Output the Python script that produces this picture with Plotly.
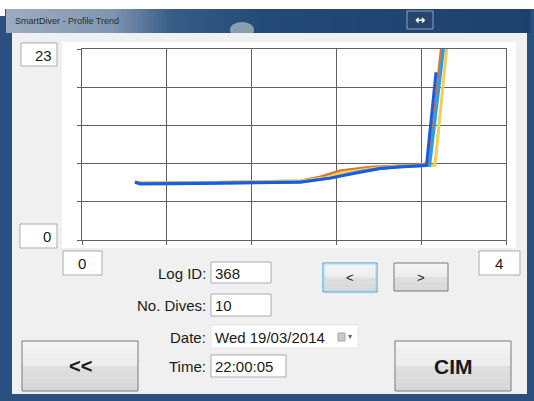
import plotly.graph_objects as go

W, H = 534, 401

# ---------------- data ----------------
X_MIN, X_MAX = 0, 4
Y_MIN, Y_MAX = 0, 23

orange_x = [0.50, 0.55, 1.10, 2.06, 2.25, 2.43, 2.72, 3.00, 3.21, 3.26, 3.31, 3.39]
orange_y = [7.0, 6.85, 6.9, 7.1, 7.6, 8.3, 8.75, 8.95, 9.05, 9.3, 13.5, 23.0]

yellow_x = [0.50, 0.55, 1.10, 2.06, 2.30, 2.45, 2.75, 3.00, 3.21, 3.33, 3.44]
yellow_y = [7.0, 6.9, 6.9, 7.1, 7.5, 8.1, 8.6, 8.9, 9.0, 9.0, 23.0]

lightblue_x = [0.50, 0.55, 1.10, 2.06, 2.34, 2.60, 2.81, 3.00, 3.21, 3.28, 3.41]
lightblue_y = [7.0, 6.8, 6.85, 7.0, 7.45, 8.2, 8.6, 8.85, 8.95, 9.0, 23.0]

blue_x = [0.50, 0.55, 1.10, 2.06, 2.34, 2.62, 2.81, 3.00, 3.21, 3.25, 3.34]
blue_y = [6.95, 6.75, 6.8, 6.95, 7.45, 8.15, 8.6, 8.8, 8.9, 9.0, 20.2]

series = [
    (orange_x, orange_y, "#d9733f"),
    (yellow_x, yellow_y, "#f1cf55"),
    (lightblue_x, lightblue_y, "#2c9fe0"),
    (blue_x, blue_y, "#1c5be0"),
]

title_text = "SmartDiver - Profile Trend"
y_max_label = "23"
y_min_label = "0"
x_min_label = "0"
x_max_label = "4"
field_labels = ["Log ID:", "No. Dives:", "Date:", "Time:"]
log_id = "368"
n_dives = "10"
date_text = "Wed 19/03/2014"
time_text = "22:00:05"
btn_prev = "<"
btn_next = ">"
btn_back = "<<"
btn_cim = "CIM"

# ---------------- helpers ----------------
def px(x):
    return x / W

def py(y):
    return 1 - y / H

shapes = []
annotations = []

def rect(x0, y0, x1, y1, fill, line=None, lw=1):
    shapes.append(dict(
        type="rect", xref="paper", yref="paper",
        x0=px(x0), x1=px(x1), y0=py(y1), y1=py(y0),
        fillcolor=fill,
        line=dict(color=line if line else "rgba(0,0,0,0)", width=lw if line else 0),
        layer="below"))

def lerp(c1, c2, t):
    t = max(0.0, min(1.0, t))
    return "#%02x%02x%02x" % tuple(int(round(a + (b - a) * t)) for a, b in zip(c1, c2))

def text(x, y, s, size=15, color="#1a1a1a", xanchor="left", bold=False, family="Liberation Sans"):
    annotations.append(dict(
        xref="paper", yref="paper", x=px(x), y=py(y), text=("<b>%s</b>" % s) if bold else s,
        showarrow=False, xanchor=xanchor, yanchor="middle",
        font=dict(size=size, color=color, family=family)))

def button(x0, y0, x1, y1, border="#7a7a7a", n=12):
    top1, top2 = (244, 244, 244), (236, 236, 236)
    bot1, bot2 = (224, 224, 224), (214, 214, 214)
    h = y1 - y0
    for i in range(n):
        a = y0 + h * i / n
        b = y0 + h * (i + 1) / n
        t = i / (n - 1)
        c = lerp(top1, top2, t * 2) if t < 0.5 else lerp(bot1, bot2, (t - 0.5) * 2)
        rect(x0, a, x1, b, c)
    rect(x0, y0, x1, y1, "rgba(0,0,0,0)", border, 1)

# ---------------- window chrome ----------------
# frame
rect(0, 9, W, H, "#2a5080")
# title bar gradient
stops = [(6, (156, 172, 192)), (110, (128, 150, 176)), (170, (56, 92, 134)), (260, (36, 74, 120)), (534, (30, 64, 108))]
for xx in range(6, 528, 4):
    c = lerp(stops[-1][1], stops[-1][1], 0)
    for (xa, ca), (xb, cb) in zip(stops[:-1], stops[1:]):
        if xa <= xx <= xb:
            c = lerp(ca, cb, (xx - xa) / (xb - xa))
            break
    rect(xx, 9, xx + 4.5, 33, c)
# subtle highlight in title bar
shapes.append(dict(type="circle", xref="paper", yref="paper", x0=px(230), x1=px(254), y0=py(38), y1=py(22),
                   fillcolor="rgba(215,225,215,0.55)", line=dict(width=0), layer="below"))
# top white area (above window)
rect(0, 0, W, 9, "#ffffff")
rect(0, 0, 5, 16, "#ffffff")
# client area
rect(12, 33, 527, 394, "#f0f0f0")
# white chart panel
rect(62, 42, 516, 248, "#ffffff")

# title text and button
text(13, 21, title_text, size=9, color="#2a2a2a", family="Liberation Sans")
rect(407, 11, 433, 29, "rgba(40,70,110,0.9)", "#8aa2c2", 1)
text(420, 20, "↔", size=12, color="#ffffff", xanchor="center", bold=True, family="DejaVu Sans")

# ---------------- range boxes ----------------
box_border = "#a8abb2"
rect(21, 43, 57, 66, "#ffffff", box_border)
text(54, 55, y_max_label, size=15, xanchor="right")
rect(20, 224, 57, 248, "#ffffff", box_border)
text(53, 236, y_min_label, size=15, xanchor="right")
rect(63, 251, 102, 275, "#ffffff", box_border)
text(82, 263, x_min_label, size=15, xanchor="center")
rect(479, 251, 520, 275, "#ffffff", box_border)
text(499, 263, x_max_label, size=15, xanchor="center")

# ---------------- fields ----------------
label_y = [273, 305, 337, 366]
for lab, yy in zip(field_labels, label_y):
    text(208, yy, lab, size=15, xanchor="right")

rect(211, 262, 271, 283, "#ffffff", box_border)
text(213, 273, log_id, size=15)
rect(211, 294, 271, 316, "#ffffff", box_border)
text(213, 305, n_dives, size=15)
rect(211, 325, 358, 348, "#ffffff", "#e6e6e6")
text(213, 337, date_text, size=15)
rect(338, 333, 345, 341, "#c9c9c9", "#a9a9a9")
text(350, 336, "▾", size=8, color="#666666", xanchor="center", family="DejaVu Sans")
rect(211, 355, 286, 377, "#ffffff", box_border)
text(213, 366, time_text, size=15)

# ---------------- buttons ----------------
button(323, 263, 377, 292, border="#3c9ad6")
rect(324, 264, 376, 291, "rgba(0,0,0,0)", "#a6d8f4", 1)
text(350, 277, btn_prev, size=13, xanchor="center")
button(394, 263, 448, 291)
text(421, 277, btn_next, size=13, xanchor="center")
button(22, 341, 138, 391)
text(80, 366, btn_back, size=20, xanchor="center", bold=True)
button(395, 341, 511, 391)
text(453, 366, btn_cim, size=21, xanchor="center", bold=True)

# ---------------- figure ----------------
fig = go.Figure()
for sx, sy, col in series:
    fig.add_trace(go.Scatter(x=sx, y=sy, mode="lines", line=dict(color=col, width=3),
                             hoverinfo="skip", showlegend=False))

grid = "#606060"
fig.update_layout(
    width=W, height=H,
    margin=dict(l=0, r=0, t=0, b=0),
    paper_bgcolor="#ffffff",
    plot_bgcolor="#ffffff",
    shapes=shapes,
    annotations=annotations,
    showlegend=False,
    xaxis=dict(domain=[px(82), px(506)], range=[X_MIN, X_MAX], tick0=X_MIN, dtick=(X_MAX - X_MIN) / 5,
               showgrid=True, gridcolor=grid, gridwidth=1, showline=True, linecolor=grid, linewidth=1,
               mirror=True, ticks="outside", ticklen=4, tickcolor=grid, showticklabels=False,
               zeroline=False, fixedrange=True),
    yaxis=dict(domain=[py(240), py(49)], range=[Y_MIN, Y_MAX], tick0=Y_MIN, dtick=(Y_MAX - Y_MIN) / 5,
               showgrid=True, gridcolor=grid, gridwidth=1, showline=True, linecolor=grid, linewidth=1,
               mirror=True, ticks="outside", ticklen=4, tickcolor=grid, showticklabels=False,
               zeroline=False, fixedrange=True),
)

fig.write_html("out.html", config={"displayModeBar": False},
               post_script="document.body.style.margin='0';")
